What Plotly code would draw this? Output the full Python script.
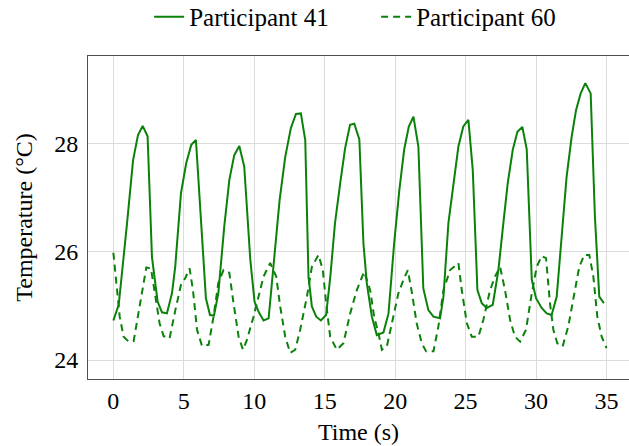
import plotly.graph_objects as go

# Participant 41 (solid)
t41 = [0.00, 0.38, 0.97, 1.40, 1.75, 2.08, 2.43, 2.74, 3.14, 3.45, 3.80, 4.16, 4.39, 4.80, 5.17, 5.53, 5.86,
       6.57, 6.86, 7.14, 7.45, 7.87, 8.23, 8.58, 8.94, 9.29, 9.72, 10.02, 10.31, 10.66, 11.02, 11.37, 11.80,
       12.20, 12.60, 12.96, 13.31, 13.62, 13.85, 14.09, 14.40, 14.73, 15.10, 15.40, 15.73, 16.10, 16.45, 16.80,
       17.10, 17.46, 17.75, 17.99, 18.35, 18.70, 19.17, 19.53, 19.93, 20.30, 20.64, 20.97, 21.30, 21.65, 22.00,
       22.36, 22.72, 23.19, 23.43, 23.78, 24.13, 24.49, 24.84, 25.20, 25.51, 25.84, 26.15, 26.50, 26.93, 27.33,
       27.68, 27.99, 28.35, 28.68, 29.03, 29.34, 29.70, 30.00, 30.40, 30.76, 31.11, 31.47, 31.82, 32.17, 32.53,
       32.84, 33.17, 33.50, 33.88, 34.18, 34.49, 34.82]
temp41 = [24.73, 25.02, 26.52, 27.69, 28.15, 28.32, 28.13, 25.90, 25.08, 24.88, 24.86, 25.23, 25.72, 27.08, 27.63,
          27.97, 28.06, 25.14, 24.83, 24.82, 25.23, 26.46, 27.32, 27.78, 27.95, 27.57, 25.85, 25.08, 24.89, 24.73,
          24.77, 25.72, 26.95, 27.75, 28.28, 28.54, 28.55, 28.06, 25.54, 24.99, 24.80, 24.73, 24.83, 25.54, 26.52,
          27.26, 27.91, 28.34, 28.36, 28.07, 26.15, 25.42, 24.80, 24.46, 24.51, 24.86, 26.15, 27.14, 27.88, 28.31,
          28.49, 27.94, 25.32, 24.92, 24.80, 24.77, 25.17, 26.52, 27.26, 27.94, 28.31, 28.43, 27.51, 25.29, 25.05,
          24.96, 25.02, 25.66, 26.52, 27.26, 27.88, 28.21, 28.30, 27.89, 25.48, 25.14, 24.96, 24.86, 24.83, 25.17,
          26.28, 27.38, 28.12, 28.61, 28.92, 29.11, 28.92, 26.65, 25.17, 25.05]

# Participant 60 (dashed)
t60 = [0.00, 0.26, 0.45, 0.73, 1.09, 1.44, 1.79, 2.10, 2.34, 2.67, 2.98, 3.28, 3.57, 3.99, 4.40, 4.80, 5.10,
       5.41, 5.65, 5.94, 6.29, 6.76, 7.11, 7.45, 7.82, 8.23, 8.53, 8.89, 9.20, 9.48, 9.95, 10.31, 10.66, 11.13,
       11.56, 11.84, 12.20, 12.55, 12.91, 13.26, 13.74, 14.09, 14.56, 14.87, 15.10, 15.39, 15.86, 16.33, 16.81,
       17.28, 17.80, 18.23, 18.51, 18.82, 19.06, 19.41, 19.84, 20.23, 20.59, 20.90, 21.16, 21.53, 21.89, 22.20,
       22.72, 23.07, 23.43, 23.90, 24.49, 24.73, 25.09, 25.44, 25.91, 26.26, 26.74, 27.09, 27.45, 27.80, 28.16,
       28.51, 28.87, 29.29, 29.70, 30.05, 30.40, 30.71, 30.99, 31.23, 31.51, 31.89, 32.29, 32.70, 33.07, 33.43,
       33.78, 34.07, 34.35, 34.66, 35.01]
temp60 = [25.98, 25.29, 24.80, 24.43, 24.34, 24.35, 24.86, 25.35, 25.71, 25.69, 25.17, 24.68, 24.44, 24.40, 24.92,
          25.39, 25.51, 25.69, 25.29, 24.56, 24.26, 24.28, 24.80, 25.42, 25.66, 25.61, 25.05, 24.43, 24.19, 24.37,
          24.80, 25.17, 25.54, 25.79, 25.54, 24.99, 24.43, 24.13, 24.19, 24.56, 25.17, 25.72, 25.94, 25.66, 25.05,
          24.43, 24.19, 24.31, 24.86, 25.29, 25.63, 25.29, 24.80, 24.49, 24.19, 24.25, 24.74, 25.23, 25.48, 25.66,
          25.29, 24.68, 24.31, 24.16, 24.16, 24.62, 25.29, 25.66, 25.79, 25.29, 24.68, 24.43, 24.43, 24.74, 25.29,
          25.54, 25.72, 25.29, 24.74, 24.43, 24.34, 24.56, 25.23, 25.72, 25.92, 25.88, 25.05, 24.56, 24.31, 24.25,
          24.62, 25.23, 25.72, 25.94, 25.94, 25.54, 24.80, 24.43, 24.22]

x_ticks = [0, 5, 10, 15, 20, 25, 30, 35]
y_ticks = [24, 26, 28]

GREEN = "#0a820a"
FONT = "Liberation Serif, Times New Roman, serif"
tfont = dict(family=FONT, size=24, color="black")
lfont = dict(family=FONT, size=25, color="black")

fig = go.Figure()
fig.add_trace(go.Scatter(x=t41, y=temp41, mode="lines", name="Participant 41",
                         line=dict(color=GREEN, width=2)))
fig.add_trace(go.Scatter(x=t60, y=temp60, mode="lines", name="Participant 60",
                         line=dict(color=GREEN, width=2, dash="7px,5px")))

fig.update_layout(
    width=629, height=446,
    margin=dict(l=88, r=0, t=56, b=67, autoexpand=False),
    paper_bgcolor="white", plot_bgcolor="white",
    font=tfont,
    showlegend=True,
    legend=dict(orientation="h", x=0.113, xanchor="left", y=1.121, yanchor="middle",
                font=lfont, bgcolor="rgba(0,0,0,0)", itemwidth=30,
                entrywidth=182, entrywidthmode="pixels"),
    xaxis=dict(range=[-1.8, 36.6], tickvals=x_ticks, ticktext=[str(v) for v in x_ticks],
               tickfont=tfont,
               showgrid=True, gridcolor="#dcdcdc", gridwidth=1, zeroline=False,
               showline=True, linecolor="#505050", linewidth=1, mirror=True, ticks="",
               ticklabelstandoff=0, automargin=False,
               title=dict(text="Time (s)", standoff=10, font=tfont)),
    yaxis=dict(range=[23.65, 29.61], tickvals=y_ticks, ticktext=[str(v) for v in y_ticks],
               tickfont=tfont,
               showgrid=True, gridcolor="#dcdcdc", gridwidth=1, zeroline=False,
               showline=True, linecolor="#505050", linewidth=1, mirror=False, ticks="",
               ticklabelstandoff=4, automargin=False,
               title=dict(text="Temperature (°C)", standoff=14, font=tfont)),
)

fig.write_html("out.html", config={"displayModeBar": False},
               post_script="document.body.style.margin='0';document.body.style.overflow='hidden';")
